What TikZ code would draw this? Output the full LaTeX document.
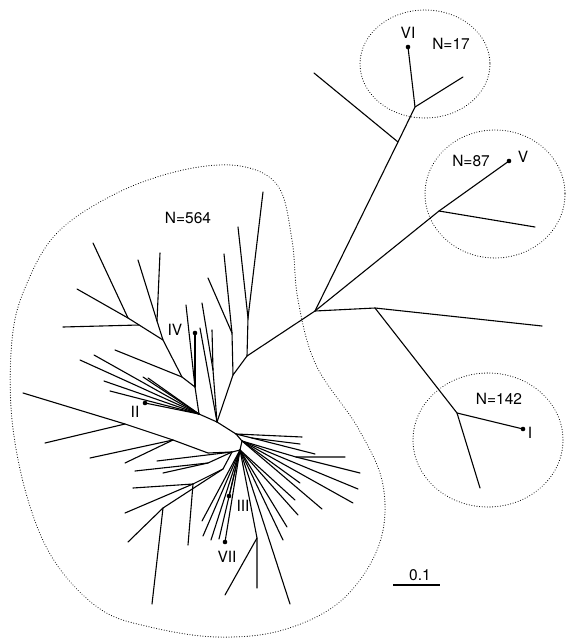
\documentclass[tikz,border=0pt]{standalone}
\usepackage{fontspec}
\setmainfont{TeX Gyre Heros}
\begin{document}
\begin{tikzpicture}[x=1pt,y=-1pt,
  br/.style={line width=1.1pt, line cap=round},
  hull/.style={line width=1.1pt, dash pattern=on 0.01pt off 2.6pt, line cap=round},
  lab/.style={font=\fontsize{15.5}{15.5}\selectfont, inner sep=0pt},
  tipdot/.style={circle, fill=black, inner sep=0pt, minimum size=4.6pt}]
\useasboundingbox (0,0) rectangle (566,639);

% internal nodes
\coordinate (R) at (315,311);
\coordinate (U1) at (398,142);
\coordinate (U2) at (415,107);
\coordinate (V1) at (439,211);
\coordinate (W1) at (375,308);
\coordinate (I1) at (457,413);
\coordinate (P2) at (247,356);
\coordinate (Q1) at (248,318);
\coordinate (P3) at (233,375);
\coordinate (Q2) at (232,333);
\coordinate (P4) at (217,422);
\coordinate (Q3) at (213,370);
\coordinate (H) at (199,414);
\coordinate (G) at (195,387);
\coordinate (K1) at (182,377);
\coordinate (K2) at (163,340);
\coordinate (K3) at (128,318);
\coordinate (K4) at (157,321);
\coordinate (A) at (236,434);
\coordinate (A1) at (252,438);
\coordinate (A2) at (242,441);
\coordinate (N1) at (296,457);
\coordinate (B) at (240,450);
\coordinate (B2) at (232,452);
\coordinate (L0) at (208,453);
\coordinate (N3) at (125,424);
\coordinate (N4) at (173,440);
\coordinate (N5) at (208,463);
\coordinate (N6) at (223,469);
\coordinate (N7) at (193,484);
\coordinate (N8) at (163,508);
\coordinate (N2) at (257,538);

% labelled tips
\node[tipdot] (tVI) at (408,47) {};
\node[tipdot] (tV) at (509,161) {};
\node[tipdot] (tI) at (523,429) {};
\node[tipdot] (tIV) at (195,333) {};
\node[tipdot] (tII) at (145,403) {};
\node[tipdot] (tIII) at (229,496) {};
\node[tipdot] (tVII) at (225,542) {};

% right part of tree
\draw[br] (R) -- (U1) -- (U2) -- (tVI.center);
\draw[br] (U1) -- (314,73);
\draw[br] (U2) -- (463,77);
\draw[br] (R) -- (V1) -- (tV.center);
\draw[br] (V1) -- (535,227);
\draw[br] (R) -- (W1) -- (542,326);
\draw[br] (W1) -- (I1) -- (tI.center);
\draw[br] (I1) -- (480,488);

% spine to the big clade
\draw[br] (R) -- (P2) -- (P3) -- (P4) -- (A);
\draw[br] (P2) -- (Q1) -- (263,192);
\draw[br] (Q1) -- (238,227);
\draw[br] (P3) -- (Q2) -- (224,254);
\draw[br] (Q2) -- (208,278);
\draw[br] (P4) -- (Q3) -- (202,303);
\draw[br] (Q3) -- (212,330);
\draw[br] (P4) -- (200,328);

% IV and II clusters
\draw[br] (H) -- (P4);
\draw[br] (G) -- (H);
\draw[br] (G) -- (186,305);
\draw[br] (G) -- (tIV.center);
\draw[br] (K1) -- (G);
\draw[br] (K1) -- (115,350);
\draw[br] (K2) -- (K1);
\draw[br] (K3) -- (K2);
\draw[br] (K3) -- (93,243);
\draw[br] (K3) -- (77,289);
\draw[br] (63,327) -- (139,325);
\draw[br] (138,260) -- (K4) -- (K2);
\draw[br] (160,253) -- (K4);
\foreach \p in {(80,360),(94,355),(104,381),(110,391),(143,377),(148,378)}
  \draw[br] \p -- (H);
\draw[br] (tII.center) -- (H);

% central hub, right fan
\draw[br] (A) -- (302,437);
\draw[br] (A) -- (A1);
\draw[br] (A1) -- (300,444);
\draw[br] (A1) -- (315,454);
\draw[br] (A) -- (A2) -- (B);
\draw[br] (A2) -- (N1) -- (345,457);
\draw[br] (N1) -- (360,473);
\draw[br] (A2) -- (300,483);
\draw[br] (A2) -- (358,489);
\draw[br] (A2) -- (353,503);
\draw[br] (A2) -- (322,509);

% lower fan
\foreach \p in {(298,515),(295,500),(287,527),(283,540),(290,604),(202,521),(203,536),(211,540),(219,539)}
  \draw[br] (B) -- \p;
\draw[br] (B) -- (tIII.center);
\draw[br] (B) -- (tVII.center);
\draw[br] (B) -- (N2) -- (257,588);
\draw[br] (N2) -- (225,595);

% left fan
\draw[br] (B) -- (B2) -- (157,461);
\draw[br] (B2) -- (L0) -- (N4) -- (N3) -- (23,393);
\draw[br] (N3) -- (45,443);
\draw[br] (N4) -- (90,458);
\draw[br] (N4) -- (125,463);
\draw[br] (B2) -- (N5) -- (135,471);
\draw[br] (N5) -- (163,473);
\draw[br] (B2) -- (N6) -- (N7) -- (125,513);
\draw[br] (N7) -- (188,545);
\draw[br] (N7) -- (133,488);
\draw[br] (N6) -- (N8) -- (128,542);
\draw[br] (N8) -- (152,604);

% dotted hulls
\draw[hull] plot[smooth cycle, tension=0.6] coordinates {
 (240,166) (278,186) (292,240) (298,300) (316,365) (358,428) (383,485)
 (379,545) (342,600) (283,630) (217,637) (150,627) (100,609) (55,562)
 (28,500) (12,420) (12,340) (25,288) (57,233) (117,193) (183,170)};
\draw[hull] (425,64) ellipse[x radius=65, y radius=54];
\draw[hull] (495,194) ellipse[x radius=70, y radius=64];
\draw[hull] (488,440) ellipse[x radius=75, y radius=67];

% labels
\node[lab] (n564) at (188,218) {N=564};
\node[lab] (n17) at (451,44) {N=17};
\node[lab] (n87) at (471,161) {N=87};
\node[lab] (n142) at (499,399) {N=142};
\node[lab] (lVI) at (408,33) {VI};
\node[lab] (lV) at (523,157) {V};
\node[lab] (lI) at (530,433) {I};
\node[lab] (lIV) at (175,330) {IV};
\node[lab] (lII) at (135,412) {II};
\node[lab] (lIII) at (243,506) {III};
\node[lab] (lVII) at (227,557) {VII};
\node[lab] (scl) at (420,575) {0.1};
\coordinate (s1) at (393,585);
\coordinate (s2) at (440,585);
\draw[line width=1.1pt] (s1) -- (s2);
\end{tikzpicture}
\end{document}
